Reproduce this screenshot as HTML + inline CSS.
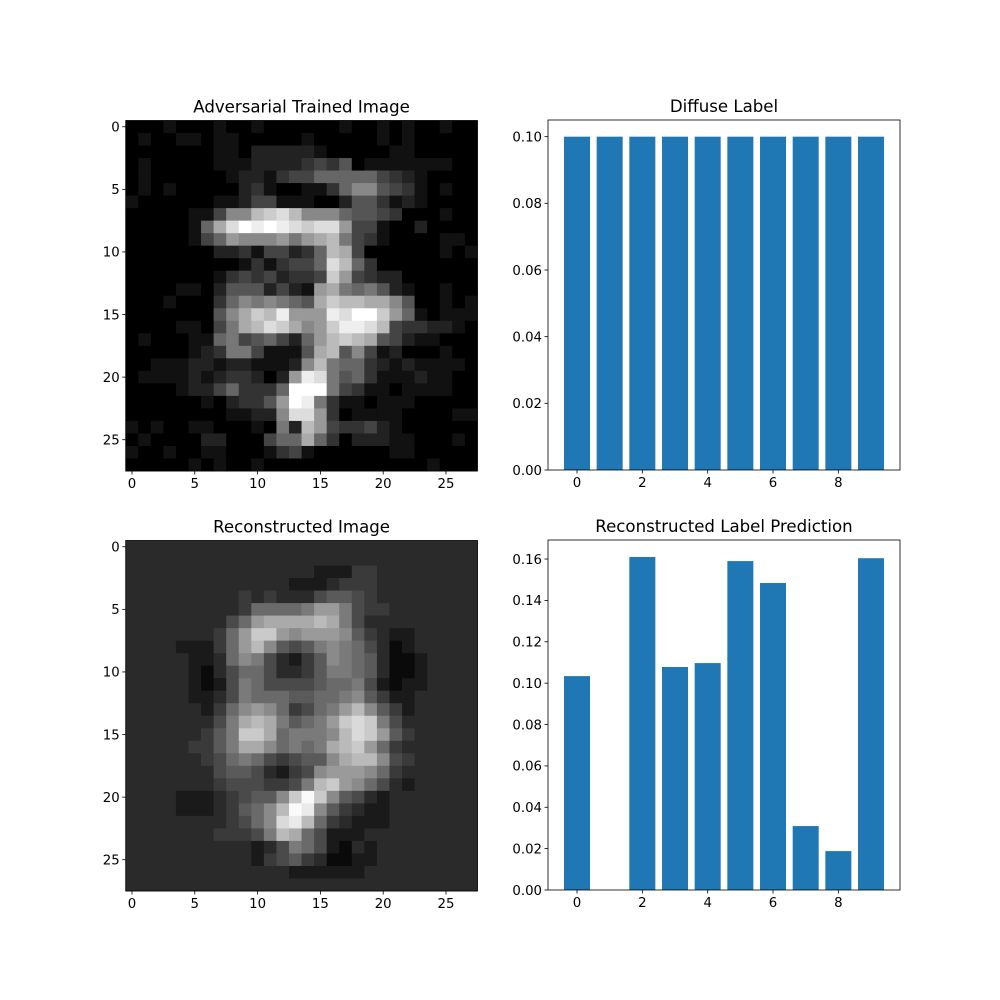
<!DOCTYPE html>
<html><head><meta charset="utf-8"><style>
html,body{margin:0;padding:0;background:#fff;}
svg{display:block;font-family:"DejaVu Sans","Liberation Sans",sans-serif;}
</style></head><body>
<svg id="fig" width="1000" height="1000" viewBox="0 0 1000 1000" xmlns="http://www.w3.org/2000/svg">
<rect width="1000" height="1000" fill="#fff"/>
<g id="img1"></g>
<g id="img2"></g>
<g id="bar1"></g>
<g id="bar2"></g>
</svg>
<script>
const advRows = [
"0001000100100000010010100100","0100110110000010000010100000","0000000110222221000001100000","0100000111222234350111111100",
"0100000012213446666643210000","0101000002310011368854310100","1000000112441110025531210000","0000011488bcdb88865543000100",
"0000016adfefedcdd94410020000","000001469888979ab74310000110","0000000223144236ba4000000101","0000000001313446db6300000000",
"0000000134342334c94322000000","0000110255524219a76752100100","000100036878765acbbaa8500101","000000058acbe999edffc9610111",
"000011047abdca89ceedb4332210","0100011"+"674564269bcba54211"+"000","0000012"+"37741115ab58412"+"000100","0011122"+"12211128b76632121111"+"0",
"0111121"+"2332029ed7563111211"+"00","0000122"+"463336fff7431101111"+"00","0000001"+"023359fe73110111"+"00000","0000000011228dd9301111000011",
"10100110001072b9433421000000","01000022000466a63022211000100","1001001100013410000001100000","0000010100100000000000001000"];
const recRows = [
"2222222222222222222222222222","2222222222222222222222222222","2222222222222221113322222222","2222222222222111233322222222",
"2222222223232224554322222222","222222222"+"366667997433"+"2222222","2222222"+"2469aaaaba7422"+"2222222","2222222"+"369cc98999853211"+"22222",
"2222111"+"369b854578764201"+"22222","2222211"+"26874213587652001"+"2222","2222210"+"24664223577652001"+"2222","2222210"+"14764444566741011"+"2222",
"2222211"+"2476665566785311"+"22222","2222221"+"36898634679b8531"+"22222","2222222"+"47aba75679cdc742"+"22222","2222223"+"57cca67778bdc953"+"22222",
"2222233"+"57aa86767abc9632"+"22222","2222223"+"4676434558abb843"+"22222","2222222"+"4554213489998632"+"22222","2222222"+"34443347bc986421"+"22222",
"2222111"+"234558cfc8542122"+"22222","2222111"+"23568bfe85321122"+"22222","2222222"+"23468deb63211122"+"22222","2222222"+"33347ba641112222"+"22222",
"2222222222124764102122222222","2222222222134532001122222222","2222222222222111111222222222","2222222222222222222222222222"];
const digits = [0,1,2,3,4,5,6,7,8,9];
const diffuseValues = [0.1,0.1,0.1,0.1,0.1,0.1,0.1,0.1,0.1,0.1];
const reconValues = [0.1034,0,0.161,0.1078,0.1097,0.159,0.1484,0.0309,0.0188,0.1604];
const imgTicks = [0,5,10,15,20,25];
const barXTicks = [0,2,4,6,8];
const diffuseYTicks = [0,0.02,0.04,0.06,0.08,0.10];
const reconYTicks = [0,0.02,0.04,0.06,0.08,0.10,0.12,0.14,0.16];

const NS="http://www.w3.org/2000/svg";
function mk(tag, attrs, parent){const e=document.createElementNS(NS,tag);for(const k in attrs)e.setAttribute(k,attrs[k]);parent.appendChild(e);return e;}
function txt(parent,x,y,s,anchor,size){const t=mk('text',{x:x,y:y,'text-anchor':anchor,'font-size':size,fill:'#000'},parent);t.textContent=s;return t;}

function drawImage(gid, rows, top, title, scale, offset){
  const g=document.getElementById(gid);
  const L=125.7,R=477.4,T=top,B=top+350.5;
  const cw=(R-L)/28,ch=(B-T)/28;
  const sx=v=>L+(v+0.5)*cw, sy=v=>T+(v+0.5)*ch;
  rows.forEach((row0,r)=>{
    const row=row0.padEnd(28,row0[0]).slice(0,28);
    for(let c=0;c<28;c++){
      const v=Math.min(255,parseInt(row[c],16)*scale+offset);
      const rc=mk('rect',{x:(sx(c)-cw/2).toFixed(2),y:(sy(r)-ch/2).toFixed(2),width:(cw+0.4).toFixed(2),height:(ch+0.4).toFixed(2),fill:`rgb(${v},${v},${v})`},g);
      
      
    }
  });
  const fr=mk('rect',{x:L,y:T,width:R-L,height:B-T,fill:'none',stroke:'#000','stroke-width':0.8},g);
  
  
  imgTicks.forEach(t=>{
    mk('line',{x1:sx(t),x2:sx(t),y1:B,y2:B+3.5,stroke:'#000','stroke-width':0.8},g);
    const a=txt(g,sx(t),B+17,String(t),'middle',13.3);
    
    
    mk('line',{x1:L,x2:L-3.5,y1:sy(t),y2:sy(t),stroke:'#000','stroke-width':0.8},g);
    const b=txt(g,L-6,sy(t)+4.8,String(t),'end',13.3);
    
    
  });
  const tt=txt(g,(L+R)/2,T-8,title,'middle',16.6);
  
  
}

function drawBars(gid, vals, top, ymax, yticks, title){
  const g=document.getElementById(gid);
  const L=548,R=900,T=top,B=top+350;
  const sx=v=>577+v*32.67;
  const sy=v=>B-(v/ymax)*(B-T);
  vals.forEach((v,i)=>{
    const r=mk('rect',{x:sx(digits[i])-13,y:sy(v),width:26,height:B-sy(v),fill:'#1f77b4'},g);
    
    
  });
  const fr=mk('rect',{x:L,y:T,width:R-L,height:B-T,fill:'none',stroke:'#000','stroke-width':0.8},g);
  
  
  barXTicks.forEach(t=>{
    mk('line',{x1:sx(t),x2:sx(t),y1:B,y2:B+3.5,stroke:'#000','stroke-width':0.8},g);
    const a=txt(g,sx(t),B+17,String(t),'middle',13.3);
    
    
  });
  yticks.forEach(t=>{
    mk('line',{x1:L,x2:L-3.5,y1:sy(t),y2:sy(t),stroke:'#000','stroke-width':0.8},g);
    const b=txt(g,L-6,sy(t)+4.8,t.toFixed(2),'end',13.3);
    
    
  });
  const tt=txt(g,(L+R)/2,T-8,title,'middle',16.6);
  
  
}

drawImage('img1',advRows,120.5,'Adversarial Trained Image',17,0);
drawImage('img2',recRows,540.5,'Reconstructed Image',16,10);
drawBars('bar1',diffuseValues,120,0.105,diffuseYTicks,'Diffuse Label');
drawBars('bar2',reconValues,540,0.1692,reconYTicks,'Reconstructed Label Prediction');
</script>
</body></html>
